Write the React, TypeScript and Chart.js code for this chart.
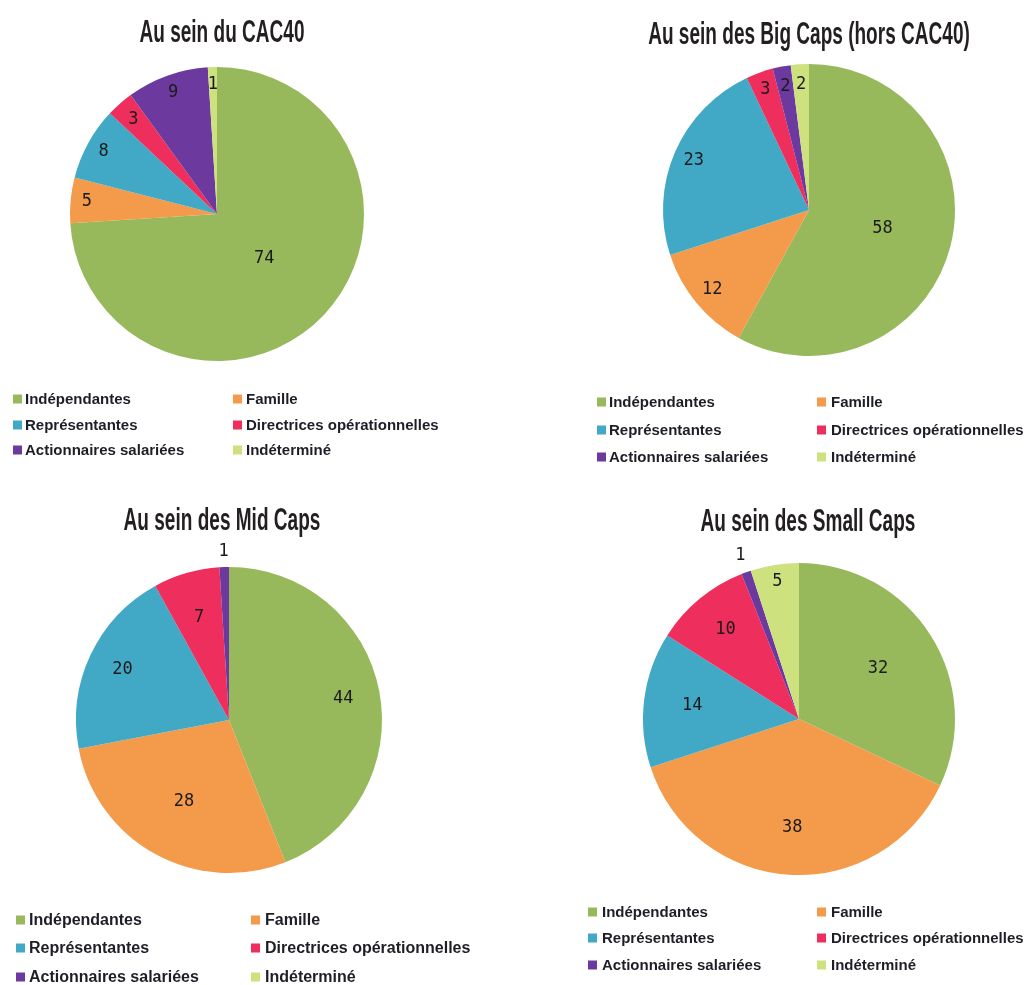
import React, { useEffect, useRef } from 'react';
import { Chart, PieController, ArcElement } from 'chart.js';

Chart.register(PieController, ArcElement);

// ---- Data ----
const CATEGORIES = [
  'Indépendantes',
  'Famille',
  'Représentantes',
  'Directrices opérationnelles',
  'Actionnaires salariées',
  'Indéterminé',
];
const CAC40_VALUES = [74, 5, 8, 3, 9, 1];
const BIG_CAPS_VALUES = [58, 12, 23, 3, 2, 2];
const MID_CAPS_VALUES = [44, 28, 20, 7, 1, 0];
const SMALL_CAPS_VALUES = [32, 38, 14, 10, 1, 5];
const TITLES = [
  'Au sein du CAC40',
  'Au sein des Big Caps (hors CAC40)',
  'Au sein des Mid Caps',
  'Au sein des Small Caps',
];

const COLORS = ['#97b95b', '#f39a4b', '#41a9c6', '#ee2e5c', '#6c3a9f', '#cde27f'];

type PanelCfg = {
  values: number[];
  title: string;
  x0: number; y0: number; w: number; h: number;
  cx: number; cy: number; r: number;
  titleX: number; titleY: number;
  labelRatio: number[];
  swatchX: number[]; textX: number[]; rowY: number[]; legendFont: number;
};

const PANELS: PanelCfg[] = [
  {
    values: CAC40_VALUES, title: TITLES[0],
    x0: 0, y0: 0, w: 513, h: 490,
    cx: 217, cy: 214, r: 147,
    titleX: 222, titleY: 42,
    labelRatio: [0.44, 0.89, 0.88, 0.86, 0.88, 0.88],
    swatchX: [13, 233], textX: [25, 246], rowY: [399, 425, 450], legendFont: 15,
  },
  {
    values: BIG_CAPS_VALUES, title: TITLES[1],
    x0: 513, y0: 0, w: 514, h: 490,
    cx: 809, cy: 210, r: 146,
    titleX: 809, titleY: 44,
    labelRatio: [0.52, 0.86, 0.86, 0.88, 0.86, 0.86],
    swatchX: [597, 817], textX: [609, 831], rowY: [402, 430, 457], legendFont: 15,
  },
  {
    values: MID_CAPS_VALUES, title: TITLES[2],
    x0: 0, y0: 490, w: 513, h: 495,
    cx: 229, cy: 720, r: 153,
    titleX: 222, titleY: 530,
    labelRatio: [0.76, 0.61, 0.77, 0.7, 1.1, 0.88],
    swatchX: [16, 251], textX: [29, 265], rowY: [920, 948, 977], legendFont: 16,
  },
  {
    values: SMALL_CAPS_VALUES, title: TITLES[3],
    x0: 513, y0: 490, w: 514, h: 495,
    cx: 799, cy: 719, r: 156,
    titleX: 808, titleY: 531,
    labelRatio: [0.6, 0.7, 0.69, 0.74, 1.11, 0.89],
    swatchX: [588, 817], textX: [602, 831], rowY: [912, 938, 965], legendFont: 15,
  },
];

function makeTextPlugin(cfg: PanelCfg) {
  return {
    id: 'panelTexts',
    afterDraw(chart: any) {
      const ctx = chart.ctx as CanvasRenderingContext2D;
      const meta = chart.getDatasetMeta(0);
      const data = chart.data.datasets[0].data as number[];
      const colors = chart.data.datasets[0].backgroundColor as string[];
      const labels = chart.data.labels as string[];

      // slice value labels
      ctx.save();
      ctx.font = '17px "DejaVu Sans Mono"';
      ctx.fillStyle = '#1a1a1a';
      ctx.textAlign = 'center';
      ctx.textBaseline = 'middle';
      meta.data.forEach((arc: any, i: number) => {
        const v = data[i];
        if (!v) return;
        const p = arc.getProps(['x', 'y', 'startAngle', 'endAngle', 'outerRadius'], true);
        const mid = (p.startAngle + p.endAngle) / 2;
        const rr = p.outerRadius * cfg.labelRatio[i];
        ctx.fillText(String(v), p.x + Math.cos(mid) * rr, p.y + Math.sin(mid) * rr);
      });
      ctx.restore();

      // title (condensed)
      ctx.save();
      ctx.font = 'bold 32px "Liberation Sans", Arial, sans-serif';
      ctx.fillStyle = '#231f20';
      ctx.textAlign = 'center';
      ctx.textBaseline = 'alphabetic';
      ctx.translate(cfg.titleX - cfg.x0, cfg.titleY - cfg.y0);
      ctx.scale(0.595, 1);
      ctx.fillText(cfg.title, 0, 0);
      ctx.restore();

      // legend
      ctx.save();
      ctx.font = `bold ${cfg.legendFont}px "Liberation Sans", Arial, sans-serif`;
      ctx.textAlign = 'left';
      ctx.textBaseline = 'middle';
      labels.forEach((lab, i) => {
        const col = i % 2;
        const row = Math.floor(i / 2);
        const y = cfg.rowY[row] - cfg.y0;
        ctx.fillStyle = colors[i];
        ctx.fillRect(cfg.swatchX[col] - cfg.x0, y - 4.5, 9, 9);
        ctx.fillStyle = '#1e1e28';
        ctx.fillText(lab, cfg.textX[col] - cfg.x0, y + 1);
      });
      ctx.restore();
    },
  };
}

function Panel({ cfg }: { cfg: PanelCfg }) {
  const ref = useRef<HTMLCanvasElement | null>(null);
  useEffect(() => {
    if (!ref.current) return;
    const chart = new Chart(ref.current, {
      type: 'pie',
      data: {
        labels: CATEGORIES,
        datasets: [
          {
            data: cfg.values,
            backgroundColor: COLORS,
            borderWidth: 0,
            hoverBorderWidth: 0,
            hoverOffset: 0,
            offset: 0,
          } as any,
        ],
      },
      options: {
        responsive: false,
        maintainAspectRatio: false,
        animation: false,
        events: [],
        radius: cfg.r,
        layout: {
          padding: {
            left: cfg.cx - cfg.r - cfg.x0,
            right: cfg.x0 + cfg.w - (cfg.cx + cfg.r),
            top: cfg.cy - cfg.r - cfg.y0,
            bottom: cfg.y0 + cfg.h - (cfg.cy + cfg.r),
          },
        },
        plugins: {
          legend: { display: false },
          tooltip: { enabled: false },
          title: { display: false },
        },
      } as any,
      plugins: [makeTextPlugin(cfg)],
    });
    return () => chart.destroy();
  }, [cfg]);
  return (
    <canvas
      ref={ref}
      width={cfg.w}
      height={cfg.h}
      style={{
        position: 'absolute',
        left: cfg.x0,
        top: cfg.y0,
        width: cfg.w,
        height: cfg.h,
        display: 'block',
      }}
    />
  );
}

export default function App() {
  return (
    <div style={{ position: 'absolute', left: 0, top: 0, width: 1027, height: 985, background: '#ffffff', overflow: 'hidden' }}>
      {PANELS.map((p, i) => (
        <Panel key={i} cfg={p} />
      ))}
    </div>
  );
}
